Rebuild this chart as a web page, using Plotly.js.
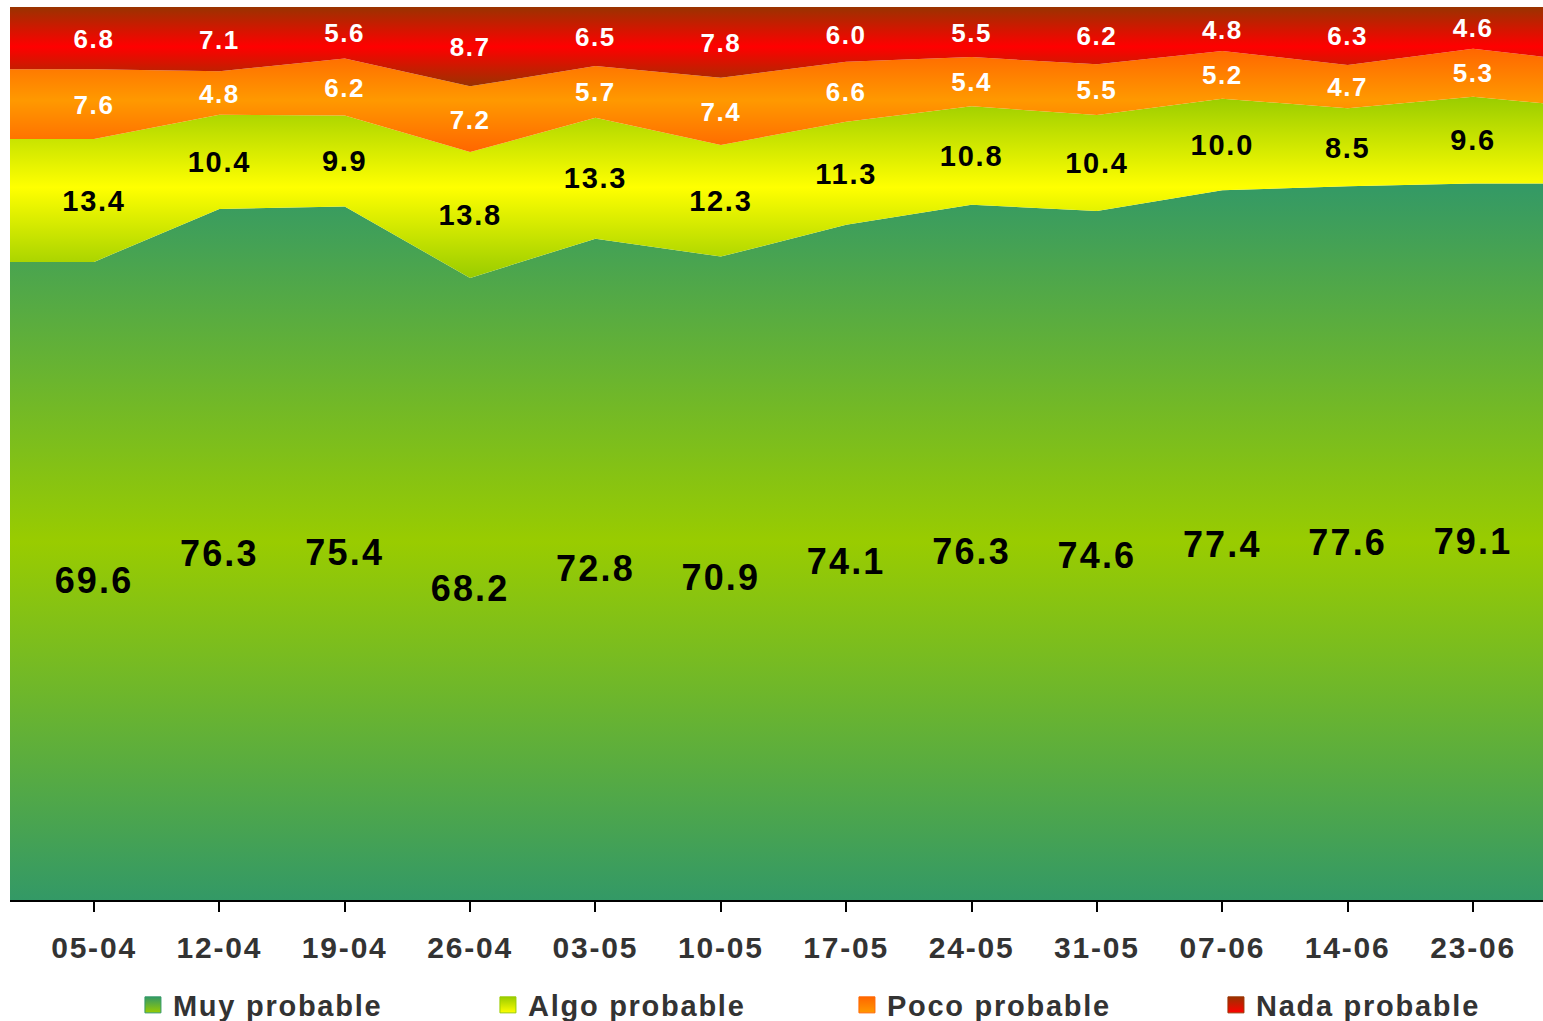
<!DOCTYPE html>
<html>
<head>
<meta charset="utf-8">
<script src="https://cdn.plot.ly/plotly-3.0.1.min.js"></script>
<style>
html,body{margin:0;padding:0;background:#ffffff;}
#chart{width:1543px;height:1021px;}
svg text{letter-spacing:0.06em;}
.textpoint text{transform:translateY(3px);}
</style>
</head>
<body>
<div id="chart"></div>
<script>
// ---- data (percent of respondents) ----
const dates = ['05-04','12-04','19-04','26-04','03-05','10-05','17-05','24-05','31-05','07-06','14-06','23-06'];
const muyProbable  = [69.6, 76.3, 75.4, 68.2, 72.8, 70.9, 74.1, 76.3, 74.6, 77.4, 77.6, 79.1];
const algoProbable = [13.4, 10.4,  9.9, 13.8, 13.3, 12.3, 11.3, 10.8, 10.4, 10.0,  8.5,  9.6];
const pocoProbable = [ 7.6,  4.8,  6.2,  7.2,  5.7,  7.4,  6.6,  5.4,  5.5,  5.2,  4.7,  5.3];
const nadaProbable = [ 6.8,  7.1,  5.6,  8.7,  6.5,  7.8,  6.0,  5.5,  6.2,  4.8,  6.3,  4.6];
// neighbouring weeks, only partly visible at the plot edges (estimated)
const prevDate = '29-03';
const prevValues = [69.6, 13.4, 7.6, 6.8];   // muy, algo, poco, nada
const nextDate = '30-06';
const nextValues = [79.1, 8.3, 5.0, 6.2];
const seriesNames = ['Muy probable', 'Algo probable', 'Poco probable', 'Nada probable'];

// ---- styles ----
const FONT = 'Liberation Sans, Arial, sans-serif';
const edgeColors = ['#339966', '#99cc00', '#ff6600', '#993300'];
const midColors  = ['#99cc00', '#ffff00', '#ff9900', '#ff0000'];
const labelColors = ['#000000', '#000000', '#ffffff', '#ffffff'];
const labelSizes = [36, 29, 26, 26];

const raw = [muyProbable, algoProbable, pocoProbable, nadaProbable];
const allDates = [prevDate].concat(dates, [nextDate]);
const allRaw = raw.map((s, k) => [prevValues[k]].concat(s, [nextValues[k]]));

// normalised cumulative shares (same as the 100% stacking plotly does)
function cumulative(series) {
  const n = series[0].length;
  const lower = series.map(() => []), upper = series.map(() => []);
  for (let i = 0; i < n; i++) {
    let tot = 0; series.forEach(s => tot += s[i]);
    let acc = 0;
    series.forEach((s, k) => {
      lower[k].push(acc);
      acc += s[i] / tot * 100;
      upper[k].push(acc);
    });
  }
  return {lower, upper};
}
const cumAll = cumulative(allRaw);
const cumVis = cumulative(raw);

const traces = [];
// stacked areas
allRaw.forEach((s, k) => {
  const start = Math.min(...cumAll.lower[k]);
  const stop = Math.max(...cumAll.upper[k]);
  traces.push({
    type: 'scatter', mode: 'none', x: allDates, y: s,
    stackgroup: 'one', groupnorm: 'percent',
    name: seriesNames[k], showlegend: false, hoverinfo: 'skip',
    line: {width: 0},
    fillgradient: {
      type: 'vertical',
      start: start, stop: stop,
      colorscale: [[0, edgeColors[k]], [0.5, midColors[k]], [1, edgeColors[k]]]
    }
  });
});
// value labels
raw.forEach((s, k) => {
  traces.push({
    type: 'scatter', mode: 'text', x: dates,
    y: cumVis.lower[k].map((lo, i) => (lo + cumVis.upper[k][i]) / 2),
    text: s.map(v => v.toFixed(1)),
    textposition: 'middle center',
    textfont: {family: FONT, size: labelSizes[k], color: labelColors[k], weight: 'bold'},
    showlegend: false, hoverinfo: 'skip', cliponaxis: false
  });
});
// legend entries
const legendWidths = [310, 314, 324, 230];
seriesNames.forEach((nm, k) => {
  traces.push({
    type: 'scatter', mode: 'markers', x: [null], y: [null], name: nm,
    legendwidth: legendWidths[k],
    marker: {symbol: 'square', size: 16, color: edgeColors[k],
             line: {width: 1, color: edgeColors[k]},
             gradient: {type: 'vertical', color: midColors[k]}},
    hoverinfo: 'skip'
  });
});

const layout = {
  width: 1543, height: 1021,
  margin: {l: 10, r: 0, t: 7, b: 121, autoexpand: false},
  paper_bgcolor: '#ffffff', plot_bgcolor: '#ffffff',
  hovermode: false,
  showlegend: true,
  xaxis: {
    type: 'category', categoryorder: 'array', categoryarray: allDates,
    range: [0.33, 12.558],
    tickmode: 'linear', tick0: 0, dtick: 1,
    ticks: 'outside', ticklen: 10, tickwidth: 2, tickcolor: '#000000',
    ticklabelstandoff: 10,
    showline: true, linecolor: '#000000', linewidth: 1.5,
    showgrid: false, zeroline: false,
    tickfont: {family: FONT, size: 30, color: '#333333', weight: 'bold'},
    fixedrange: true
  },
  yaxis: {range: [0, 100], visible: false, fixedrange: true},
  legend: {
    orientation: 'h', x: 0.0802, xanchor: 'left', y: -0.1176, yanchor: 'middle',
    font: {family: FONT, size: 29, color: '#333333', weight: 'bold'},
    traceorder: 'normal', bgcolor: 'rgba(0,0,0,0)', itemclick: false, itemdoubleclick: false
  }
};

Plotly.newPlot('chart', traces, layout, {displayModeBar: false, staticPlot: true});
</script>
</body>
</html>
